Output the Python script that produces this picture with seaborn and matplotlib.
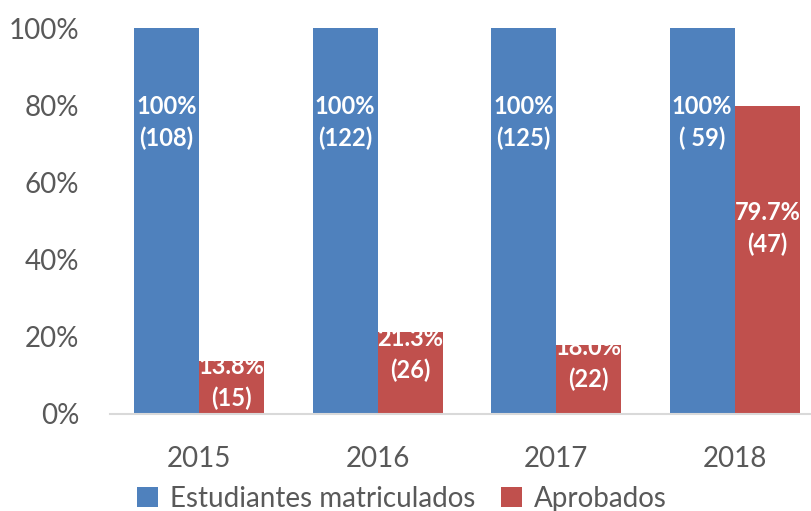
import pandas as pd
import numpy as np

import matplotlib.pyplot as plt
import seaborn as sns

# Data
years = ['2015', '2016', '2017', '2018']
series_names = ['Estudiantes matriculados', 'Aprobados']
matriculados_pct = [100, 100, 100, 100]
aprobados_pct = [13.8, 21.3, 18.0, 79.7]
matriculados_n = ['108', '122', '125', ' 59']
aprobados_n = ['15', '26', '22', '47']

# label centres (in % units), placed by hand like the original
matriculados_label_y = [75.5, 75.5, 75.5, 75.5]
aprobados_label_y = [8.2, 15.5, 13.0, 48.0]

colors = ['#4F81BD', '#C0504D']

df = pd.DataFrame({
    'Year': years * 2,
    'Serie': [series_names[0]] * 4 + [series_names[1]] * 4,
    'Pct': matriculados_pct + aprobados_pct
})

sns.set_style('white')
plt.rcParams['font.family'] = ['Lato', 'DejaVu Sans']

fig = plt.figure(figsize=(8.11, 5.11), dpi=100)
ax = fig.add_axes([110 / 811, 1 - 414 / 511, 714 / 811, 386 / 511])

sns.barplot(
    data=df,
    x='Year',
    y='Pct',
    hue='Serie',
    palette=colors,
    saturation=1,
    width=0.73,
    linewidth=0,
    ax=ax
)

ax.set_ylim(0, 100)
ax.set_xlim(-0.5, 3.5)
ax.set_yticks(np.arange(0, 101, 20))
ax.set_yticklabels([f'{v}%' for v in range(0, 101, 20)])
ax.set_xlabel('')
ax.set_ylabel('')

ax.tick_params(axis='y', length=0, pad=22, labelsize=20, labelcolor='#595959')
ax.tick_params(axis='x', length=0, pad=23, labelsize=20, labelcolor='#595959')

for side in ['top', 'right', 'left']:
    ax.spines[side].set_visible(False)
ax.spines['bottom'].set_color('#D9D9D9')
ax.spines['bottom'].set_linewidth(1.5)

# data labels
off = 0.73 / 4
for i in range(len(years)):
    ax.text(i - off, matriculados_label_y[i],
            f'{matriculados_pct[i]}%\n({matriculados_n[i]})',
            ha='center', va='center', color='white', fontsize=17,
            fontweight='bold', linespacing=1.45)
    ax.text(i + off, aprobados_label_y[i],
            f'{aprobados_pct[i]:.1f}%\n({aprobados_n[i]})',
            ha='center', va='center', color='white', fontsize=17,
            fontweight='bold', linespacing=1.45, zorder=1)

# legend
handles, labels = ax.get_legend_handles_labels()
ax.legend(
    handles, labels,
    loc='center',
    bbox_to_anchor=(402 / 811, 1 - 499 / 511),
    bbox_transform=fig.transFigure,
    ncol=2,
    frameon=False,
    fontsize=20,
    labelcolor='#595959',
    handlelength=0.75,
    handleheight=0.75,
    handletextpad=0.45,
    columnspacing=0.9
)

fig.savefig('out.png', dpi=100)
